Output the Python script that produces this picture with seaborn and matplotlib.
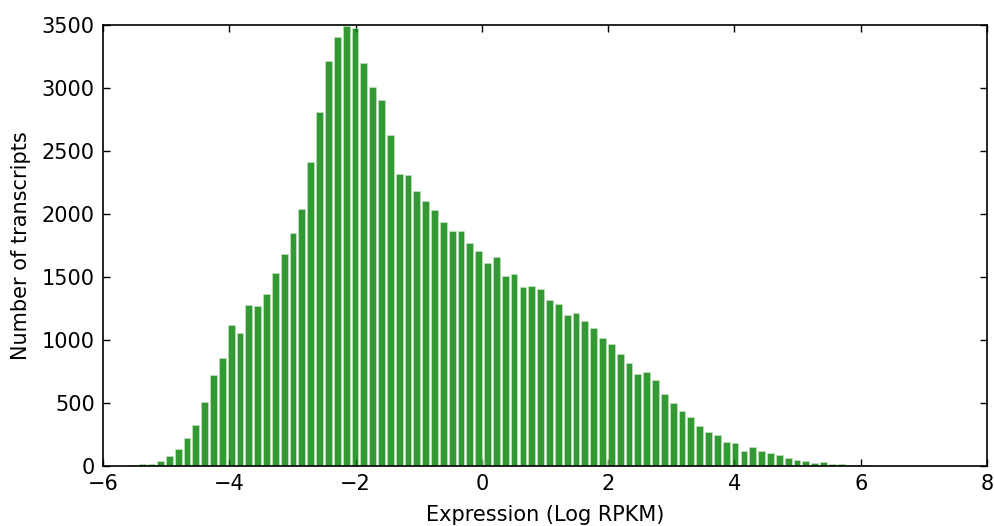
import numpy as np
import pandas as pd
import matplotlib
matplotlib.use("Agg")
import matplotlib.pyplot as plt
import seaborn as sns

# Histogram of log RPKM expression: 100 bins of width 0.14 starting at -6
bin_start = -6.0
bin_width = 0.14
counts = [
    0, 2, 4, 8, 14, 14, 40, 80, 139, 224,
    326, 507, 723, 856, 1118, 1059, 1278, 1267, 1368, 1530,
    1686, 1851, 2043, 2414, 2806, 3211, 3408, 3488, 3478, 3200,
    3005, 2902, 2627, 2315, 2312, 2182, 2104, 2030, 1940, 1866,
    1866, 1766, 1705, 1612, 1655, 1510, 1523, 1423, 1430, 1403,
    1319, 1286, 1195, 1215, 1148, 1097, 1018, 971, 893, 816,
    730, 748, 686, 570, 503, 439, 388, 319, 267, 246,
    192, 182, 120, 150, 120, 107, 84, 67, 46, 43,
    22, 30, 14, 14, 7, 6, 10, 2, 1, 0,
    0, 0, 0, 0, 0, 0, 0, 0, 0, 0,
]
x_ticks = [-6, -4, -2, 0, 2, 4, 6, 8]
y_ticks = [0, 500, 1000, 1500, 2000, 2500, 3000, 3500]
x_label = "Expression (Log RPKM)"
y_label = "Number of transcripts"

n_bins = len(counts)
edges = [bin_start + bin_width * i for i in range(n_bins + 1)]
centers = [(edges[i] + edges[i + 1]) / 2 for i in range(n_bins)]
df = pd.DataFrame({"expr": centers, "n": counts})

sns.set_style("white")
plt.rcParams["font.family"] = ["DejaVu Sans"]

fig = plt.figure(figsize=(9.95, 5.26), dpi=100)
ax = fig.add_axes([0.1035, 0.114, 0.8885, 0.8385])

sns.histplot(data=df, x="expr", weights="n", bins=edges, ax=ax,
             color="g", alpha=0.8, edgecolor="#c8e6c8", linewidth=0.4,
             shrink=0.77)

ax.set_xlim(-6, 8)
ax.set_ylim(0, 3500)
ax.set_xticks(x_ticks)
ax.set_yticks(y_ticks)
ax.set_xlabel(x_label, fontsize=15, labelpad=8, color="black")
ax.set_ylabel(y_label, fontsize=15, labelpad=8, color="black")
ax.tick_params(axis="both", which="major", direction="in", length=5,
               width=1, labelsize=15, top=True, right=True,
               bottom=True, left=True, colors="black", pad=6)
for s in ax.spines.values():
    s.set_visible(True)
    s.set_color("black")
    s.set_linewidth(1.2)

fig.savefig("out.png", dpi=100, facecolor="white")
